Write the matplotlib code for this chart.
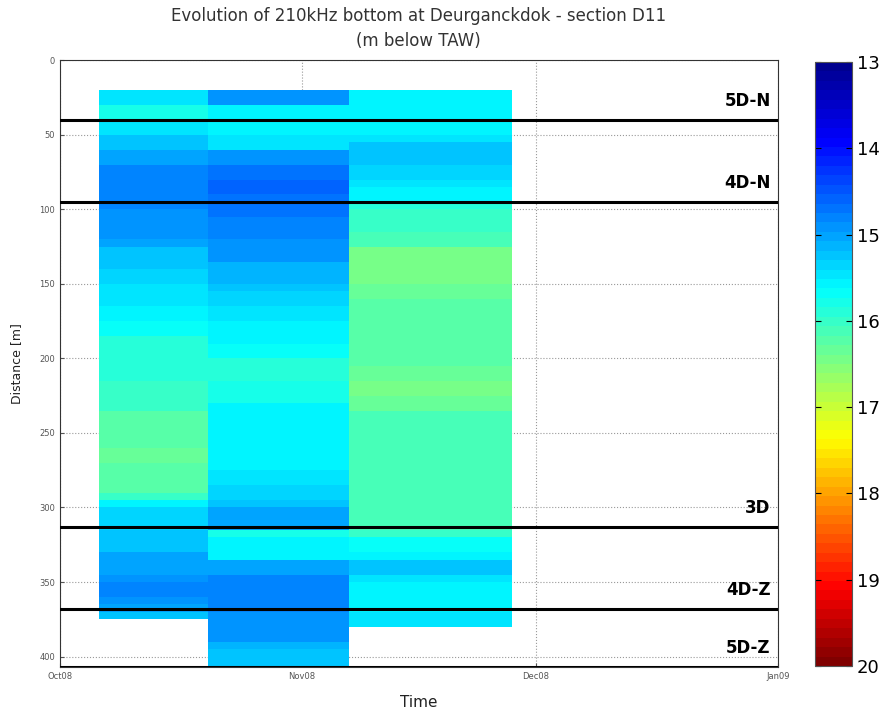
import numpy as np
import matplotlib
matplotlib.use("Agg")
import matplotlib.pyplot as plt
import matplotlib.dates as mdates
from matplotlib.colors import LinearSegmentedColormap
from datetime import datetime

# survey periods (edges of the three columns)
survey_edges = [datetime(2008, 10, 6), datetime(2008, 10, 20),
                datetime(2008, 11, 7), datetime(2008, 11, 28)]

# distance bins [m], 5 m spacing starting at 20 m
dist_edges = np.arange(20, 411, 5)

# bottom level (m below TAW) per distance bin, one list per survey
bottom_oct06 = [15.45, 15.45, 15.8, 15.8, 15.5, 15.5, 15.27, 15.27, 15.0, 15.0,
                14.75, 14.75, 14.75, 14.75, 14.85, 14.85, 14.95, 14.95, 14.95, 14.95,
                15.05, 15.2, 15.2, 15.2, 15.3, 15.3, 15.45, 15.45, 15.45, 15.62,
                15.62, 15.7, 15.7, 15.9, 15.9, 15.9, 15.9, 15.9, 15.9, 16.05,
                16.05, 16.05, 16.05, 16.2, 16.2, 16.2, 16.2, 16.2, 16.3, 16.3,
                16.2, 16.2, 16.2, 16.2, 15.98, 15.62, 15.37, 15.37, 15.37, 15.2,
                15.2, 15.2, 15.0, 15.0, 15.0, 14.9, 14.75, 14.75, 14.95, 15.05,
                15.2, np.nan, np.nan, np.nan, np.nan, np.nan, np.nan, np.nan]

bottom_oct20 = [14.9, 14.9, 15.55, 15.55, 15.55, 15.55, 15.5, 15.5, 14.9, 14.9,
                14.65, 14.65, 14.55, 14.55, 14.65, 14.65, 14.65, 14.85, 14.85, 14.85,
                14.95, 14.95, 14.95, 15.12, 15.12, 15.12, 15.27, 15.4, 15.4, 15.5,
                15.5, 15.62, 15.62, 15.62, 15.7, 15.7, 15.85, 15.85, 15.85, 15.75,
                15.75, 15.75, 15.62, 15.62, 15.62, 15.62, 15.62, 15.62, 15.62, 15.62,
                15.62, 15.5, 15.5, 15.3, 15.3, 15.2, 15.07, 15.07, 15.07, 15.8,
                15.6, 15.55, 15.55, 15.05, 15.05, 14.85, 14.85, 14.85, 14.85, 14.85,
                14.92, 14.92, 14.92, 14.92, 15.1, 15.25, 15.25, 15.25]

bottom_nov07 = [15.55, 15.55, 15.62, 15.62, 15.6, 15.6, 15.45, 15.2, 15.2, 15.2,
                15.3, 15.3, 15.45, 15.62, 15.62, 15.9, 15.98, 15.98, 15.98, 16.1,
                16.1, 16.4, 16.4, 16.4, 16.4, 16.4, 16.3, 16.3, 16.2, 16.2,
                16.2, 16.2, 16.2, 16.2, 16.2, 16.2, 16.2, 16.3, 16.3, 16.4,
                16.4, 16.3, 16.3, 16.1, 16.1, 16.1, 16.1, 16.1, 16.1, 16.1,
                16.1, 16.1, 16.1, 16.1, 16.1, 16.1, 16.1, 16.1, 16.1, 15.98,
                15.7, 15.7, 15.55, 15.27, 15.27, 15.5, 15.62, 15.62, 15.62, 15.62,
                15.5, 15.5, np.nan, np.nan, np.nan, np.nan, np.nan, np.nan]

# dock zone boundaries
zone_names = ["5D-N", "4D-N", "3D", "4D-Z", "5D-Z"]
zone_dist = [40, 95, 313, 368, 407]

month_ticks = [datetime(2008, 10, 1), datetime(2008, 11, 1),
               datetime(2008, 12, 1), datetime(2009, 1, 1)]
month_labels = ["Oct08", "Nov08", "Dec08", "Jan09"]

grid = np.ma.masked_invalid(np.column_stack([bottom_oct06, bottom_oct20, bottom_nov07]))

# MATLAB style jet, 64 levels
matlab_jet = LinearSegmentedColormap.from_list(
    "matlab_jet",
    [(0.0, (0, 0, 0.5625)), (0.125, (0, 0, 1)), (0.375, (0, 1, 1)),
     (0.625, (1, 1, 0)), (0.875, (1, 0, 0)), (1.0, (0.5, 0, 0))],
    N=64)

fig = plt.figure(figsize=(8.86, 7.13), dpi=100)
ax = fig.add_axes([0.0677, 0.0645, 0.810, 0.851])
cax = fig.add_axes([0.920, 0.066, 0.0418, 0.847])

mesh = ax.pcolormesh(mdates.date2num(survey_edges), dist_edges, grid,
                     cmap=matlab_jet, vmin=13, vmax=20, shading="flat")

# zone lines + labels
for name, d in zip(zone_names, zone_dist):
    ax.axhline(d, color="black", lw=2.2, zorder=3)
    ax.annotate(name, xy=(1, d), xycoords=("axes fraction", "data"),
                xytext=(-5, 7), textcoords="offset points",
                ha="right", va="bottom", fontsize=12, fontweight="bold")

ax.set_xlim(month_ticks[0], month_ticks[-1])
ax.set_ylim(407, 0)
ax.set_xticks(month_ticks)
ax.set_xticklabels(month_labels)
ax.set_yticks(np.arange(0, 401, 50))
ax.tick_params(labelsize=6, colors="#555555", direction="in", length=3)
ax.grid(True, linestyle=":", color="#999999", linewidth=0.8)
ax.set_axisbelow(True)
for sp in ax.spines.values():
    sp.set_color("#333333")

ax.set_xlabel("Time", fontsize=11, color="#222222", labelpad=10)
ax.set_ylabel("Distance [m]", fontsize=9, color="#222222", labelpad=12)
ax.set_title("Evolution of 210kHz bottom at Deurganckdok - section D11\n(m below TAW)",
             fontsize=12, color="#333333", pad=10, linespacing=1.5)

cb = fig.colorbar(mesh, cax=cax, ticks=np.arange(13, 21))
cax.invert_yaxis()
cax.tick_params(labelsize=13, direction="in", left=True, right=True, length=4)
cb.outline.set_edgecolor("#555555")

fig.savefig("out.png", dpi=100)
